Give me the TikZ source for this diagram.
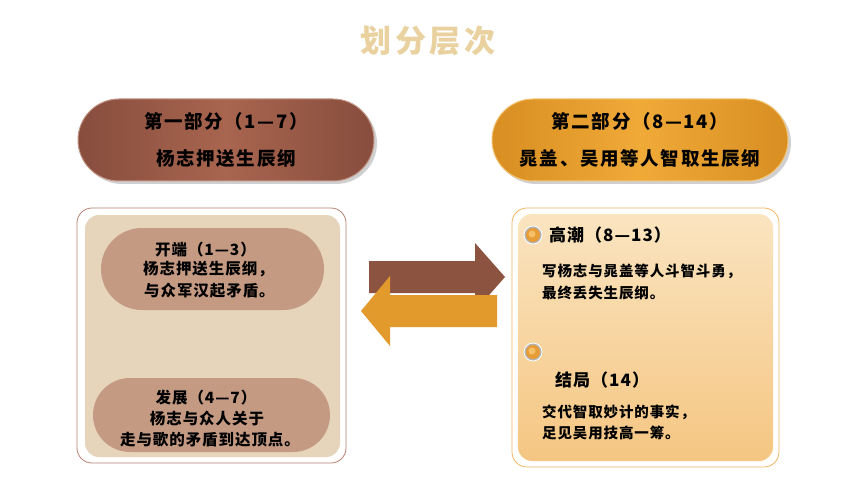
\documentclass[tikz,border=0pt]{standalone}
\usepackage{fontspec}
\setmainfont{Noto Sans CJK SC}
\newfontfamily\cjkh[LetterSpace=9]{Noto Sans CJK SC}
\newfontfamily\cjkt[LetterSpace=6]{Noto Sans CJK SC}
\newfontfamily\cjktitle[LetterSpace=12]{Noto Sans CJK SC}
\usetikzlibrary{shadows}
\definecolor{titlegold}{HTML}{E9D29F}
\definecolor{brownmid}{HTML}{A8654F}
\definecolor{brownedge}{HTML}{874D3D}
\definecolor{orangemid}{HTML}{F0AA38}
\definecolor{orangeedge}{HTML}{D88E22}
\definecolor{lbord}{HTML}{B98171}
\definecolor{lfill}{HTML}{E6D4BB}
\definecolor{lpill}{HTML}{C49A83}
\definecolor{rbord}{HTML}{F2B562}
\definecolor{rtop}{HTML}{FAE4C0}
\definecolor{rbot}{HTML}{F5C682}
\definecolor{arrbrown}{HTML}{8C5440}
\definecolor{arrorange}{HTML}{E39A2D}
\definecolor{ballfill}{HTML}{E89C35}
\definecolor{ballhi}{HTML}{F4BF68}
\tikzset{
  bigpill/.style={rounded corners=41pt, minimum width=296pt, minimum height=82pt,
    align=center, inner sep=0pt, font=\cjkh\bfseries\fontsize{18.5}{37}\selectfont,
    drop shadow={shadow xshift=3pt, shadow yshift=-3pt, opacity=0.3, fill=black!60}},
  brownpill/.style={bigpill, shading=axis, left color=brownedge, right color=brownedge, middle color=brownmid, draw=brownmid!70!white, line width=1pt},
  orangepill/.style={bigpill, shading=axis, left color=orangeedge, right color=orangeedge, middle color=orangemid, draw=orangemid!70!white, line width=1pt},
  lline/.style={inner sep=0pt, font=\cjkt\bfseries\fontsize{15.5}{20}\selectfont},
  rhead/.style={inner sep=0pt, anchor=west, font=\cjkt\bfseries\fontsize{17}{20}\selectfont},
  rline/.style={inner sep=0pt, anchor=west, font=\cjkt\bfseries\fontsize{14.5}{20}\selectfont},
  bullet/.style={circle, minimum size=18pt, inner sep=0pt, fill=black!30, draw=white, line width=0.8pt},
  ball/.style={fill=ballfill}
}
\begin{document}
\begin{tikzpicture}[x=1pt,y=-1pt]
\useasboundingbox[fill=white] (0,0) rectangle (860,484);
% title
\node[font=\cjktitle\bfseries\fontsize{31}{34}\selectfont, text=titlegold] (title) at (428,41) {划分层次};
% top pills
\node[brownpill] (p1) at (226,140) {第一部分（1—7）\\杨志押送生辰纲};
\node[orangepill] (p2) at (640,140) {第二部分（8—14）\\晁盖、吴用等人智取生辰纲};
% left box
\draw[lbord, fill=white, line width=0.8pt, rounded corners=15pt] (77,208) rectangle (346,463);
\fill[lfill, rounded corners=14pt] (85,215) rectangle (340,457);
\fill[lpill, rounded corners=41pt] (101,228) rectangle (324,310);
\fill[lpill, rounded corners=37pt] (93,378) rectangle (330,452);
\node[lline, anchor=west] (l1a) at (155,250) {开端（1—3）};
\node[lline, anchor=west] (l1b) at (143,269) {杨志押送生辰纲，};
\node[lline, anchor=west] (l1c) at (144,291) {与众军汉起矛盾。};
\node[lline] (l2a) at (206,398) {发展（4—7）};
\node[lline] (l2b) at (207,419) {杨志与众人关于};
\node[lline] (l2c) at (210,440) {走与歌的矛盾到达顶点。};
% right box
\draw[rbord, fill=white, line width=0.8pt, rounded corners=15pt] (512,208) rectangle (779,467);
\shade[rounded corners=14pt, top color=rtop, bottom color=rbot] (518,214) rectangle (773,461);
\node[bullet] (b1) at (533,235) {};
\fill[ball] (b1.center) circle [radius=7];
\fill[ballhi] ([xshift=-1pt,yshift=1pt]b1.center) circle [radius=3.5];
\node[bullet] (b2) at (533,352) {};
\fill[ball] (b2.center) circle [radius=7];
\fill[ballhi] ([xshift=-1pt,yshift=1pt]b2.center) circle [radius=3.5];
\node[rhead] (r1) at (549,235) {高潮（8—13）};
\node[rline] (r1a) at (542,271) {写杨志与晁盖等人斗智斗勇，};
\node[rline] (r1b) at (542,293) {最终丢失生辰纲。};
\node[rhead] (r2) at (555,380) {结局（14）};
\node[rline] (r2a) at (542,412) {交代智取妙计的事实，};
\node[rline] (r2b) at (542,433) {足见吴用技高一筹。};
% arrows
\fill[arrbrown] (369,261) -- (475,261) -- (475,243) -- (505,277) -- (475,311) -- (475,293) -- (369,293) -- cycle;
\fill[arrorange] (497,295) -- (390,295) -- (390,276) -- (361,311) -- (390,346) -- (390,327) -- (497,327) -- cycle;
\end{tikzpicture}
\end{document}
